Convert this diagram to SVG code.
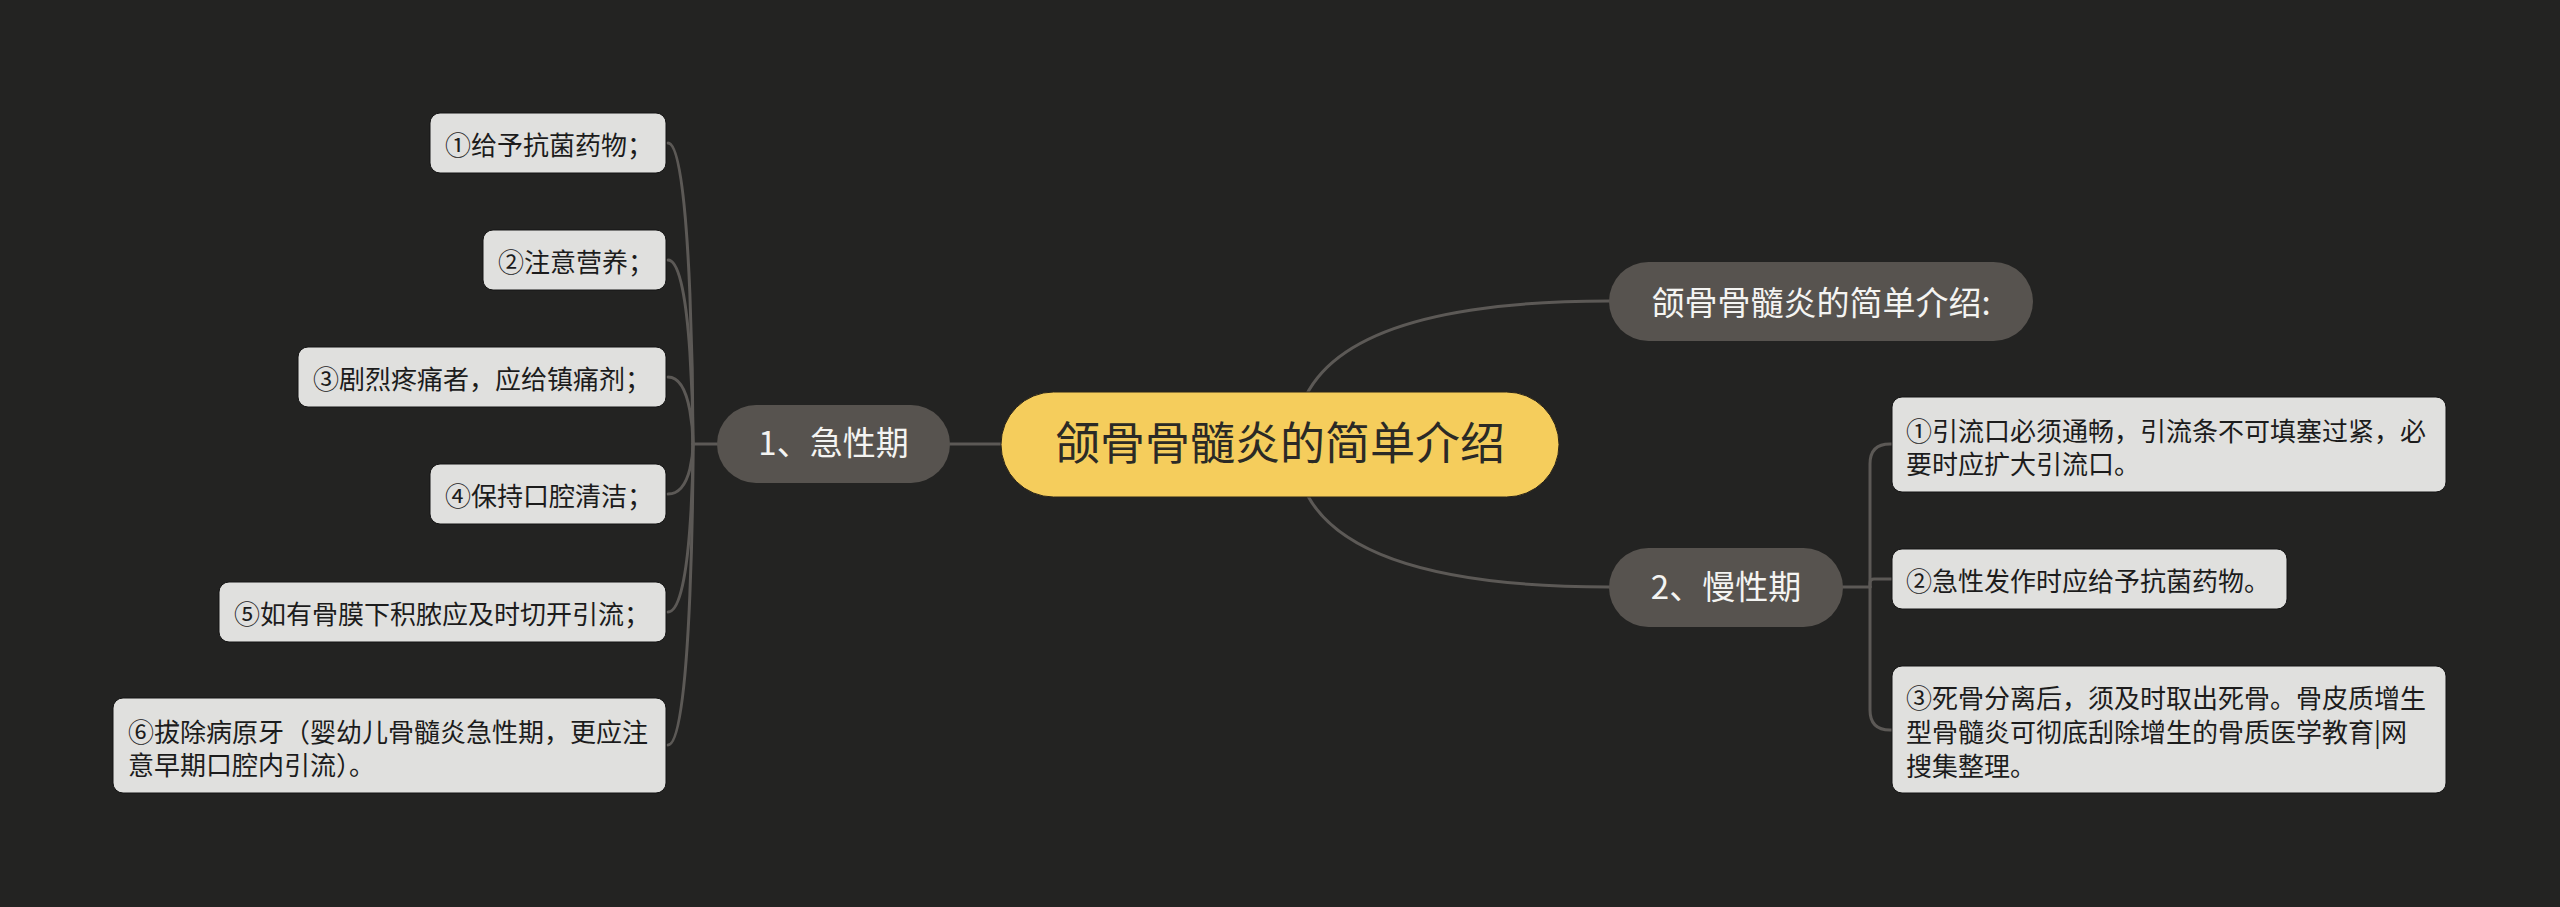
<svg xmlns="http://www.w3.org/2000/svg" width="2560" height="907" viewBox="0 0 2560 907">
<style>
.bg{fill:#232322}
.ln{fill:none;stroke:#5c5956;stroke-width:3;stroke-linecap:round}
.leaf{fill:#e0e0de;stroke:#151515;stroke-width:1}
.sub{fill:#57534f}
.root{fill:#f5cd5c;stroke:#2a2418;stroke-width:1}
.t{font-family:"Noto Sans CJK SC","Noto Sans",sans-serif}
.lt{font-size:26px;fill:#1c1c1c}
.st{font-size:33px;fill:#f4f4f2;text-anchor:middle}
.rt{font-size:45px;fill:#2b2a26;text-anchor:middle}
</style>
<rect class="bg" x="0" y="0" width="2560" height="907"/>
<g id="connectors">
<path class="ln" d="M950 444 L1001 444"/>
<path class="ln" d="M717 444 L693 444"/>
<path class="ln" d="M693 444 C693 444 693 143 668 143"/>
<path class="ln" d="M693 444 C693 444 693 260 668 260"/>
<path class="ln" d="M693 444 C693 444 693 377 668 377"/>
<path class="ln" d="M693 444 C693 444 693 494 668 494"/>
<path class="ln" d="M693 444 C693 444 693 612 668 612"/>
<path class="ln" d="M693 444 C693 444 693 745 668 745"/>
<path class="ln" d="M1295 444 Q1295 301 1609 301"/>
<path class="ln" d="M1295 444 Q1295 587 1609 587"/>
<path class="ln" d="M1843 587 L1870 587"/>
<path class="ln" d="M1870 587 L1870 464 Q1870 444 1890 444 L1892 444"/>
<path class="ln" d="M1870 587 L1870 583 Q1870 579 1874 579 L1892 579"/>
<path class="ln" d="M1870 587 L1870 710 Q1870 730 1890 730 L1892 730"/>
</g>
<g id="root">
<rect class="root" x="1001" y="392" width="558" height="105" rx="52.5"/>
<text class="t rt" x="1280" y="460">颌骨骨髓炎的简单介绍</text>
</g>
<g id="acute">
<rect class="sub" x="717" y="405" width="233" height="78" rx="39"/>
<text class="t st" x="833.5" y="455">1、急性期</text>
</g>
<g id="intro">
<rect class="sub" x="1609" y="262" width="424" height="79" rx="39.5"/>
<text class="t st" x="1821" y="315">颌骨骨髓炎的简单介绍:</text>
</g>
<g id="chronic">
<rect class="sub" x="1609" y="548" width="234" height="79" rx="39.5"/>
<text class="t st" x="1726" y="599">2、慢性期</text>
</g>
<g id="a1">
<rect class="leaf" x="430" y="113" width="236" height="60" rx="10"/>
<text class="t lt" x="445" y="155">①给予抗菌药物；</text>
</g>
<g id="a2">
<rect class="leaf" x="483" y="230" width="183" height="60" rx="10"/>
<text class="t lt" x="498" y="272">②注意营养；</text>
</g>
<g id="a3">
<rect class="leaf" x="298" y="347" width="368" height="60" rx="10"/>
<text class="t lt" x="313" y="389">③剧烈疼痛者，应给镇痛剂；</text>
</g>
<g id="a4">
<rect class="leaf" x="430" y="464" width="236" height="60" rx="10"/>
<text class="t lt" x="445" y="506">④保持口腔清洁；</text>
</g>
<g id="a5">
<rect class="leaf" x="219" y="582" width="447" height="60" rx="10"/>
<text class="t lt" x="234" y="624">⑤如有骨膜下积脓应及时切开引流；</text>
</g>
<g id="a6">
<rect class="leaf" x="113" y="698" width="553" height="95" rx="10"/>
<text class="t lt" x="128" y="742">⑥拔除病原牙（婴幼儿骨髓炎急性期，更应注</text>
<text class="t lt" x="128" y="775">意早期口腔内引流）。</text>
</g>
<g id="c1">
<rect class="leaf" x="1892" y="397" width="554" height="95" rx="10"/>
<text class="t lt" x="1906" y="441">①引流口必须通畅，引流条不可填塞过紧，必</text>
<text class="t lt" x="1906" y="474">要时应扩大引流口。</text>
</g>
<g id="c2">
<rect class="leaf" x="1892" y="549" width="395" height="60" rx="10"/>
<text class="t lt" x="1906" y="591">②急性发作时应给予抗菌药物。</text>
</g>
<g id="c3">
<rect class="leaf" x="1892" y="666" width="554" height="127" rx="10"/>
<text class="t lt" x="1906" y="708">③死骨分离后，须及时取出死骨。骨皮质增生</text>
<text class="t lt" x="1906" y="742">型骨髓炎可彻底刮除增生的骨质医学教育|网</text>
<text class="t lt" x="1906" y="776">搜集整理。</text>
</g>
</svg>
